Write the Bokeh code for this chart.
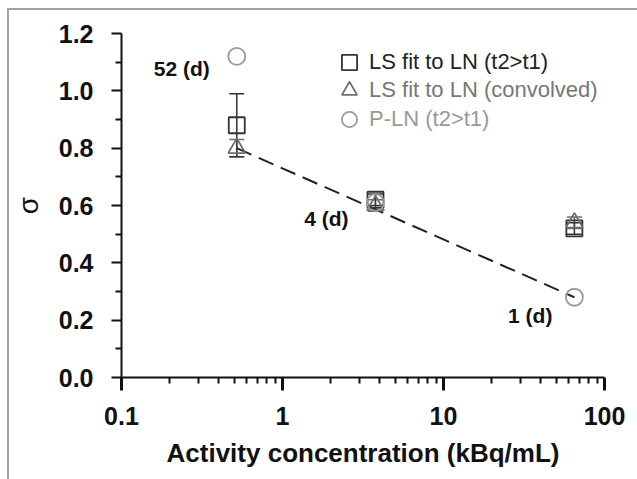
from bokeh.plotting import figure
from bokeh.models import (Range1d, Legend, LegendItem, Whisker, TeeHead, ColumnDataSource,
                          CustomJSTickFormatter, FixedTicker, Label)
from bokeh.embed import file_html
from bokeh.resources import INLINE

# ---- data ----
conc = [0.52, 3.78, 65.0]
ls_t2 = [0.88, 0.62, 0.52]
ls_t2_err = [0.11, 0.02, 0.02]
ls_conv = [0.80, 0.60, 0.54]
ls_conv_err = [0.03, 0.02, 0.02]
pln = [1.12, 0.61, 0.28]
fit_x = [0.52, 65.0]
fit_y = [0.80, 0.28]
day_labels = ["52 (d)", "4 (d)", "1 (d)"]
x_ticks = [0.1, 1, 10, 100]
y_ticks = [0.0, 0.2, 0.4, 0.6, 0.8, 1.0, 1.2]
legend_labels = ["LS fit to LN (t2>t1)", "LS fit to LN (convolved)", "P-LN (t2>t1)"]

FONT = "Liberation Sans"
C_SQ = "#333333"
C_TRI = "#6e6e6e"
C_CIR = "#9a9a9a"

p = figure(width=630, height=471, x_axis_type="log",
           x_range=Range1d(0.1, 100), y_range=Range1d(0, 1.2),
           output_backend="svg", toolbar_location=None,
           min_border_left=107, min_border_right=35, min_border_top=23, min_border_bottom=104)
p.margin = (8, 0, 0, 7)
p.styles = {"border-top": "2px solid #a3a3a3", "border-left": "2px solid #a3a3a3"}
p.outline_line_color = None
p.grid.visible = False
p.background_fill_color = "white"
p.border_fill_color = "white"

# axes
minor_x = [m * 10.0 ** d for d in (-1, 0, 1) for m in range(2, 10)]
p.xaxis.ticker = FixedTicker(ticks=x_ticks, minor_ticks=minor_x)
p.xaxis.formatter = CustomJSTickFormatter(code="return tick >= 1 ? tick.toFixed(0) : tick.toFixed(1);")
p.yaxis.ticker = FixedTicker(ticks=y_ticks, minor_ticks=[0.1, 0.3, 0.5, 0.7, 0.9, 1.1])
p.yaxis.formatter = CustomJSTickFormatter(code="return tick.toFixed(1);")

for ax in (p.xaxis[0], p.yaxis[0]):
    ax.axis_line_width = 2
    ax.axis_line_color = "#111111"
    ax.major_tick_line_color = "#111111"
    ax.minor_tick_line_color = "#111111"
    ax.major_tick_in = 0
    ax.minor_tick_in = 0
    ax.minor_tick_line_width = 2
    ax.major_label_text_font = FONT
    ax.major_label_text_font_style = "bold"
    ax.major_label_text_font_size = "25px"
    ax.major_label_text_color = "#111111"
    ax.axis_label_text_color = "#111111"
    ax.axis_label_text_font = FONT

p.xaxis.major_tick_out = 13
p.xaxis.minor_tick_out = 6
p.xaxis.major_tick_line_width = 3
p.xaxis.major_label_standoff = 16
p.xaxis.axis_label = "Activity concentration (kBq/mL)"
p.xaxis.axis_label_text_font_style = "bold"
p.xaxis.axis_label_text_font_size = "26px"
p.xaxis.axis_label_standoff = 10

p.yaxis.major_tick_out = 10
p.yaxis.minor_tick_out = 6
p.yaxis.major_tick_line_width = 2
p.yaxis.major_label_standoff = 18
p.yaxis.axis_label = "σ"
p.yaxis.axis_label_text_font_style = "normal"
p.yaxis.axis_label_text_font_size = "28px"
p.yaxis.axis_label_standoff = 12

# fit line
p.line(fit_x, fit_y, line_color="#222222", line_width=2, line_dash="16 8")

# error bars
src_sq = ColumnDataSource(dict(x=conc, y=ls_t2,
                               lo=[v - e for v, e in zip(ls_t2, ls_t2_err)],
                               hi=[v + e for v, e in zip(ls_t2, ls_t2_err)]))
src_tri = ColumnDataSource(dict(x=conc, y=ls_conv,
                                lo=[v - e for v, e in zip(ls_conv, ls_conv_err)],
                                hi=[v + e for v, e in zip(ls_conv, ls_conv_err)]))
for src, col in ((src_tri, C_TRI), (src_sq, C_SQ)):
    w = Whisker(base="x", lower="lo", upper="hi", source=src, dimension="height",
                line_color=col, line_width=1.5,
                upper_head=TeeHead(size=15, line_color=col, line_width=1.5),
                lower_head=TeeHead(size=15, line_color=col, line_width=1.5))
    p.add_layout(w)

r_sq = p.scatter("x", "y", source=src_sq, marker="square", size=16, fill_color=None,
                 line_color=C_SQ, line_width=1.8)
r_tri = p.scatter("x", "y", source=src_tri, marker="triangle", size=17, fill_color=None,
                  line_color=C_TRI, line_width=1.8)
r_cir = p.scatter(conc, pln, marker="circle", size=17, fill_color=None,
                  line_color=C_CIR, line_width=1.8)

# day labels next to the P-LN points
offsets = [(-27, -12), (-27, -16), (-22, -18)]
for xv, yv, txt, (dx, dy) in zip(conc, pln, day_labels, offsets):
    p.add_layout(Label(x=xv, y=yv, text=txt, x_offset=dx, y_offset=dy,
                       text_align="right", text_baseline="middle",
                       text_font=FONT, text_font_style="bold",
                       text_font_size="21px", text_color="#111111"))

# legends (one per entry so each label can have its own colour)
rows = [(r_sq, 296, "#222222"), (r_tri, 268, "#777777"), (r_cir, 239, "#999999")]
for (rend, yloc, tcol), lab in zip(rows, legend_labels):
    lg = Legend(items=[LegendItem(label=lab, renderers=[rend])],
                location=(209, yloc), glyph_width=38, glyph_height=38,
                label_standoff=1, padding=0, margin=0, spacing=0,
                border_line_color=None, background_fill_alpha=0,
                label_text_font=FONT, label_text_font_size="22px",
                label_text_color=tcol, label_height=38)
    p.add_layout(lg)

open("out.html", "w").write(file_html(p, INLINE))
